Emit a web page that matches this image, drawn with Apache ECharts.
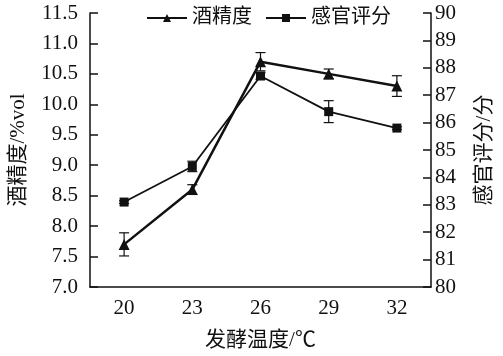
<!DOCTYPE html>
<html><head><meta charset="utf-8">
<script src="https://cdn.jsdelivr.net/npm/echarts@6/dist/echarts.min.js"></script>
<style>html,body{margin:0;padding:0;background:#fff}#c{width:503px;height:356px}</style>
</head><body><div id="c"></div>
<script>
const temps = ['20', '23', '26', '29', '32'];
const alcohol = [7.7, 8.6, 10.7, 10.5, 10.3];
const alcoholErr = [0.19, 0.08, 0.15, 0.08, 0.17];
const sensory = [83.1, 84.4, 87.7, 86.4, 85.8];
const sensoryErr = [0.05, 0.19, 0.12, 0.4, 0.05];
const leftTicks = [7.0, 11.5, 0.5];
const rightTicks = [80, 90, 1];

const FONT = '"Liberation Serif", "Noto Sans CJK SC", serif';
const C = '#111';
const FS = 21;

function errData(vals, errs) {
  return vals.map((v, i) => [i, v - errs[i], v + errs[i]]);
}
function errRender(params, api) {
  const lo = api.coord([api.value(0), api.value(1)]);
  const hi = api.coord([api.value(0), api.value(2)]);
  const w = 5;
  const st = { stroke: C, lineWidth: 1.2 };
  return { type: 'group', children: [
    { type: 'line', shape: { x1: lo[0], y1: lo[1], x2: hi[0], y2: hi[1] }, style: st },
    { type: 'line', shape: { x1: lo[0] - w, y1: lo[1], x2: lo[0] + w, y2: lo[1] }, style: st },
    { type: 'line', shape: { x1: hi[0] - w, y1: hi[1], x2: hi[0] + w, y2: hi[1] }, style: st }
  ]};
}

const chart = echarts.init(document.getElementById('c'), null, { renderer: 'canvas' });
chart.setOption({
  animation: false,
  backgroundColor: '#fff',
  textStyle: { fontFamily: FONT, color: C },
  grid: { left: 81, right: 68, top: 13, bottom: 68 },
  legend: {
    top: 3, left: 141, itemWidth: 40, itemHeight: 10, itemGap: 13,
    textStyle: { fontFamily: FONT, fontSize: 20, color: C },
    data: ['酒精度', '感官评分']
  },
  xAxis: {
    type: 'category', data: temps, boundaryGap: true,
    name: '发酵温度/℃', nameLocation: 'middle', nameGap: 43,
    nameTextStyle: { fontFamily: FONT, fontSize: FS, color: C },
    axisLine: { lineStyle: { color: C, width: 1.5 } },
    axisTick: { inside: true, alignWithLabel: true, length: 8, lineStyle: { color: C, width: 1.5 } },
    axisLabel: { fontFamily: FONT, fontSize: FS, color: C, margin: 11 },
    splitLine: { show: false }
  },
  yAxis: [{
    type: 'value', min: leftTicks[0], max: leftTicks[1], interval: leftTicks[2],
    name: '酒精度/%vol', nameLocation: 'middle', nameGap: 61, nameRotate: 90,
    nameTextStyle: { fontFamily: FONT, fontSize: FS, color: C },
    axisLine: { show: true, lineStyle: { color: C, width: 1.5 } },
    axisTick: { show: true, inside: true, length: 8, lineStyle: { color: C, width: 1.5 } },
    axisLabel: { fontFamily: FONT, fontSize: FS, color: C, margin: 12, formatter: v => v.toFixed(1) },
    splitLine: { show: false }
  }, {
    type: 'value', position: 'right', min: rightTicks[0], max: rightTicks[1], interval: rightTicks[2],
    name: '感官评分/分', nameLocation: 'middle', nameGap: 43, nameRotate: 90,
    nameTextStyle: { fontFamily: FONT, fontSize: FS, color: C },
    axisLine: { show: true, lineStyle: { color: C, width: 1.5 } },
    axisTick: { show: true, inside: true, length: 8, lineStyle: { color: C, width: 1.5 } },
    axisLabel: { fontFamily: FONT, fontSize: FS, color: C, margin: 4 },
    splitLine: { show: false }
  }],
  series: [{
    name: '酒精度', type: 'line', yAxisIndex: 0, data: alcohol,
    symbol: 'triangle', symbolSize: 11, itemStyle: { color: C },
    lineStyle: { color: C, width: 2.5 }, z: 3
  }, {
    name: '感官评分', type: 'line', yAxisIndex: 1, data: sensory,
    symbol: 'rect', symbolSize: 9, itemStyle: { color: C },
    lineStyle: { color: C, width: 1.8 }, z: 3
  }, {
    type: 'custom', yAxisIndex: 0, data: errData(alcohol, alcoholErr),
    renderItem: errRender, z: 2, silent: true
  }, {
    type: 'custom', yAxisIndex: 1, data: errData(sensory, sensoryErr),
    renderItem: errRender, z: 2, silent: true
  }]
});
</script></body></html>
